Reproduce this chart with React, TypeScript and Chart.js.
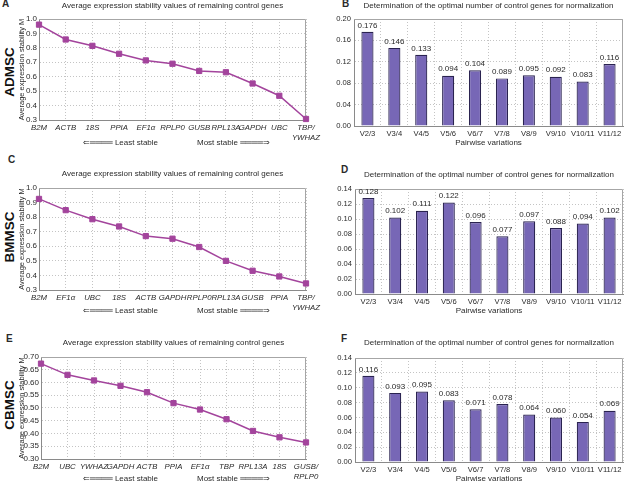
import React, { useEffect, useRef } from "react";
import { Chart, registerables } from "chart.js";

Chart.register(...registerables);

// ---------------- data ----------------
const genesA: (string | string[])[] = ["B2M", "ACTB", "18S", "PPIA", "EF1α", "RPLP0", "GUSB", "RPL13A", "GAPDH", "UBC", ["TBP/", "YWHAZ"]];
const stabilityA = [0.961, 0.858, 0.814, 0.759, 0.713, 0.69, 0.64, 0.631, 0.553, 0.468, 0.307];

const genesC: (string | string[])[] = ["B2M", "EF1α", "UBC", "18S", "ACTB", "GAPDH", "RPLP0", "RPL13A", "GUSB", "PPIA", ["TBP/", "YWHAZ"]];
const stabilityC = [0.925, 0.848, 0.786, 0.736, 0.67, 0.652, 0.595, 0.5, 0.432, 0.393, 0.345];

const genesE: (string | string[])[] = ["B2M", "UBC", "YWHAZ", "GAPDH", "ACTB", "PPIA", "EF1α", "TBP", "RPL13A", "18S", ["GUSB/", "RPLP0"]];
const stabilityE = [0.674, 0.63, 0.608, 0.587, 0.562, 0.519, 0.494, 0.456, 0.41, 0.385, 0.365];

const pairwise = ["V2/3", "V3/4", "V4/5", "V5/6", "V6/7", "V7/8", "V8/9", "V9/10", "V10/11", "V11/12"];
const variationB = [0.176, 0.146, 0.133, 0.094, 0.104, 0.089, 0.095, 0.092, 0.083, 0.116];
const variationD = [0.128, 0.102, 0.111, 0.122, 0.096, 0.077, 0.097, 0.088, 0.094, 0.102];
const variationF = [0.116, 0.093, 0.095, 0.083, 0.071, 0.078, 0.064, 0.06, 0.054, 0.069];

const LINE_TITLE = "Average expression stability values of remaining control genes";
const BAR_TITLE = "Determination of the optimal number of control genes for normalization";
const Y_LINE_TITLE = "Average expression stability M";
const X_BAR_TITLE = "Pairwise variations";
const LEAST = "⇐════ Least stable";
const MOST = "Most stable ════⇒";

// ---------------- styles ----------------
const FONT = "'Liberation Sans', Arial, Helvetica, sans-serif";
const LINE_COLOR = "#a3449c";
const BAR_FILL = "#7767b6";
const BAR_EDGE = "#2a2350";
const GRID = "#c4c4c4";
const AXIS = "#8a8a8a";
const TEXT = "#2a2a2a";

type Box = { l: number; t: number; w: number; h: number };
type Plot = { l: number; t: number; r: number; b: number };

const framePlugin = {
  id: "frame",
  beforeDatasetsDraw(chart: any) {
    const { ctx, chartArea } = chart;
    const { left, top, right, bottom } = chartArea;
    ctx.save();
    ctx.strokeStyle = "#a6a6a6";
    ctx.lineWidth = 1;
    ctx.beginPath();
    ctx.moveTo(left, top + 0.5);
    ctx.lineTo(right - 0.5, top + 0.5);
    ctx.lineTo(right - 0.5, bottom);
    ctx.stroke();
    ctx.restore();
  },
};

const valueLabelPlugin = {
  id: "valueLabels",
  afterDatasetsDraw(chart: any) {
    const { ctx } = chart;
    const meta = chart.getDatasetMeta(0);
    const data = chart.data.datasets[0].data as number[];
    ctx.save();
    ctx.font = `8px ${FONT}`;
    ctx.fillStyle = TEXT;
    ctx.textAlign = "center";
    ctx.textBaseline = "bottom";
    meta.data.forEach((el: any, i: number) => {
      ctx.fillText(data[i].toFixed(3), el.x, el.y - 2.5);
    });
    ctx.restore();
  },
};

function LinePanel(props: {
  labels: (string | string[])[];
  values: number[];
  yMin: number;
  yMax: number;
  step: number;
  dec: number;
  box: Box;
  plot: Plot;
}) {
  const ref = useRef<HTMLCanvasElement>(null);
  useEffect(() => {
    const { labels, values, yMin, yMax, step, dec, box, plot } = props;
    const chart = new Chart(ref.current as HTMLCanvasElement, {
      type: "line",
      data: {
        labels,
        datasets: [
          {
            data: values,
            borderColor: LINE_COLOR,
            backgroundColor: LINE_COLOR,
            borderWidth: 1.5,
            pointStyle: "rect",
            pointRadius: 3.7,
            pointBorderWidth: 1,
            pointBackgroundColor: LINE_COLOR,
            pointBorderColor: LINE_COLOR,
            tension: 0,
            clip: false as any,
          },
        ],
      },
      options: {
        animation: false,
        responsive: false,
        maintainAspectRatio: false,
        layout: { padding: { left: 0, top: 0, bottom: 0, right: box.l + box.w - plot.r } },
        plugins: {
          legend: { display: false },
          tooltip: { enabled: false },
          title: {
            display: true,
            text: LINE_TITLE,
            fullSize: false,
            color: TEXT,
            font: { family: FONT, size: 8, weight: "normal", lineHeight: 1.2 },
            padding: { top: 1, bottom: plot.t - box.t - 1 - 9.6 },
          },
        },
        scales: {
          x: {
            type: "category",
            offset: false,
            grid: { offset: false, color: GRID, drawTicks: false },
            border: { color: AXIS, dash: [1, 2] },
            ticks: {
              font: { family: FONT, size: 7.8, style: "italic", lineHeight: 1.3 },
              color: TEXT,
              padding: 3,
              maxRotation: 0,
              minRotation: 0,
              autoSkip: false,
            },
            afterFit: (s: any) => {
              s.height = box.t + box.h - plot.b;
              s.paddingLeft = 0;
              s.paddingRight = 0;
            },
          },
          y: {
            min: yMin,
            max: yMax,
            ticks: {
              stepSize: step,
              callback: (v: any) => Number(v).toFixed(dec),
              font: { family: FONT, size: 8 },
              color: TEXT,
              padding: 2,
            },
            grid: { color: GRID, drawTicks: false },
            border: { color: AXIS, dash: [1, 2] },
            title: {
              display: true,
              text: Y_LINE_TITLE,
              color: TEXT,
              font: { family: FONT, size: 7.5 },
              padding: { top: 5, bottom: 0 },
            },
            afterFit: (s: any) => {
              s.width = plot.l - box.l;
            },
          },
        },
      } as any,
      plugins: [framePlugin],
    });
    return () => chart.destroy();
  }, []);
  const { box } = props;
  return (
    <canvas
      ref={ref}
      width={box.w}
      height={box.h}
      style={{ position: "absolute", left: box.l, top: box.t, width: box.w, height: box.h }}
    />
  );
}

function BarPanel(props: { values: number[]; yMax: number; box: Box; plot: Plot }) {
  const ref = useRef<HTMLCanvasElement>(null);
  useEffect(() => {
    const { values, yMax, box, plot } = props;
    const chart = new Chart(ref.current as HTMLCanvasElement, {
      type: "bar",
      data: {
        labels: pairwise,
        datasets: [
          {
            data: values,
            backgroundColor: BAR_FILL,
            borderColor: BAR_EDGE,
            borderWidth: 1.2,
            barPercentage: 0.45,
            categoryPercentage: 1,
          },
        ],
      },
      options: {
        animation: false,
        responsive: false,
        maintainAspectRatio: false,
        layout: { padding: { left: 0, top: 0, bottom: 0, right: box.l + box.w - plot.r } },
        plugins: {
          legend: { display: false },
          tooltip: { enabled: false },
          title: {
            display: true,
            text: BAR_TITLE,
            fullSize: false,
            color: TEXT,
            font: { family: FONT, size: 8, weight: "normal", lineHeight: 1.2 },
            padding: { top: 1, bottom: plot.t - box.t - 1 - 9.6 },
          },
        },
        scales: {
          x: {
            grid: { offset: true, color: GRID, drawTicks: false },
            border: { color: AXIS, dash: [1, 2] },
            ticks: {
              font: { family: FONT, size: 7.6 },
              color: TEXT,
              padding: 3,
              maxRotation: 0,
              minRotation: 0,
              autoSkip: false,
            },
            title: {
              display: true,
              text: X_BAR_TITLE,
              color: TEXT,
              font: { family: FONT, size: 8, lineHeight: 1.2 },
              padding: { top: 0, bottom: 4 },
            },
            afterFit: (s: any) => {
              s.height = box.t + box.h - plot.b;
              s.paddingLeft = 0;
              s.paddingRight = 0;
            },
          },
          y: {
            min: 0,
            max: yMax,
            ticks: {
              stepSize: 0.02,
              callback: (v: any) => Number(v).toFixed(2),
              font: { family: FONT, size: 7.6 },
              color: TEXT,
              padding: 3,
            },
            grid: { color: GRID, drawTicks: false },
            border: { color: AXIS, dash: [1, 2] },
            afterFit: (s: any) => {
              s.width = plot.l - box.l;
            },
          },
        },
      } as any,
      plugins: [framePlugin, valueLabelPlugin],
    });
    return () => chart.destroy();
  }, []);
  const { box } = props;
  return (
    <canvas
      ref={ref}
      width={box.w}
      height={box.h}
      style={{ position: "absolute", left: box.l, top: box.t, width: box.w, height: box.h }}
    />
  );
}

function Text(props: { x: number; y: number; text: string; size: number; bold?: boolean }) {
  return (
    <div
      style={{
        position: "absolute",
        left: props.x,
        top: props.y - props.size * 0.6,
        fontFamily: FONT,
        fontSize: props.size,
        lineHeight: `${props.size * 1.2}px`,
        fontWeight: props.bold ? "bold" : "normal",
        color: TEXT,
        whiteSpace: "nowrap",
      }}
    >
      {props.text}
    </div>
  );
}

function SideLabel(props: { cx: number; cy: number; text: string }) {
  return (
    <div
      style={{
        position: "absolute",
        left: props.cx - 40,
        top: props.cy - 9,
        width: 80,
        height: 18,
        lineHeight: "18px",
        textAlign: "center",
        fontFamily: FONT,
        fontSize: 13.5,
        fontWeight: "bold",
        color: "#111",
        transform: "rotate(-90deg)",
      }}
    >
      {props.text}
    </div>
  );
}

export default function App() {
  return (
    <div
      style={{
        position: "absolute",
        left: 0,
        top: 0,
        width: 625,
        height: 483,
        overflow: "hidden",
        background: "#fff",
      }}
    >
      <SideLabel cx={10} cy={72} text="ADMSC" />
      <SideLabel cx={10} cy={237} text="BMMSC" />
      <SideLabel cx={10} cy={405} text="CBMSC" />

      <Text x={2} y={4} text="A" size={10} bold />
      <Text x={342} y={4} text="B" size={10} bold />
      <Text x={8} y={160} text="C" size={10} bold />
      <Text x={341} y={170} text="D" size={10} bold />
      <Text x={6} y={339} text="E" size={10} bold />
      <Text x={341} y={339} text="F" size={10} bold />

      <LinePanel labels={genesA} values={stabilityA} yMin={0.3} yMax={1.0} step={0.1} dec={1}
        box={{ l: 12, t: 0, w: 330, h: 152 }} plot={{ l: 39, t: 19, r: 306, b: 120 }} />
      <LinePanel labels={genesC} values={stabilityC} yMin={0.3} yMax={1.0} step={0.1} dec={1}
        box={{ l: 12, t: 168, w: 330, h: 154 }} plot={{ l: 39, t: 188, r: 306, b: 290 }} />
      <LinePanel labels={genesE} values={stabilityE} yMin={0.3} yMax={0.7} step={0.05} dec={2}
        box={{ l: 12, t: 337, w: 330, h: 154 }} plot={{ l: 41, t: 357, r: 306, b: 459 }} />

      <BarPanel values={variationB} yMax={0.2} box={{ l: 318, t: 0, w: 307, h: 152 }} plot={{ l: 354, t: 19, r: 623, b: 126 }} />
      <BarPanel values={variationD} yMax={0.14} box={{ l: 318, t: 169, w: 307, h: 151 }} plot={{ l: 355, t: 189, r: 623, b: 294 }} />
      <BarPanel values={variationF} yMax={0.14} box={{ l: 318, t: 337, w: 307, h: 151 }} plot={{ l: 355, t: 358, r: 623, b: 462 }} />

      <Text x={83} y={143} text={LEAST} size={8} />
      <Text x={197} y={143} text={MOST} size={8} />
      <Text x={83} y={311} text={LEAST} size={8} />
      <Text x={197} y={311} text={MOST} size={8} />
      <Text x={83} y={479} text={LEAST} size={8} />
      <Text x={197} y={479} text={MOST} size={8} />
    </div>
  );
}
